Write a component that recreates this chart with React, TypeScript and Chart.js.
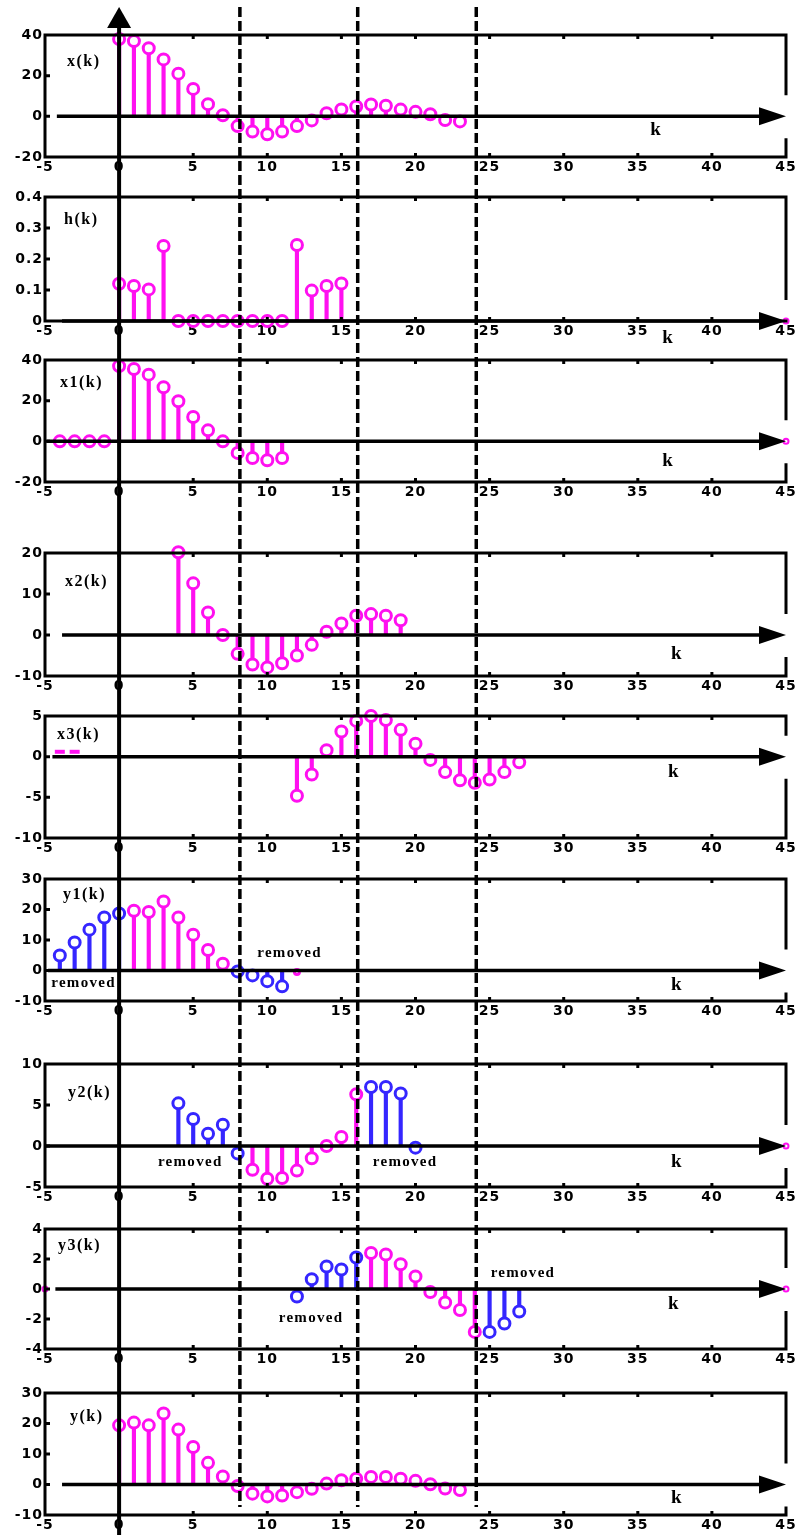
import React, { useEffect, useRef } from 'react';
import { Chart, registerables } from 'chart.js';
Chart.register(...registerables);

const MAG = '#ff10f0';
const BLUE = '#3526ff';
const W = 798;
const PAGE_H = 1535;
const K_MIN = -5;
const K_MAX = 45;
const K_STEP = 5;
const DIVIDERS = [8.15, 16.1, 24.1];
const DASH_TOP = 7;
const DASH_BOTTOM = 1507;

// ---- data ----
const X_K0 = 0;
const X_VALUES = [38, 37, 33.5, 28, 21, 13.5, 6, 0.5, -4.8, -7.5, -8.8, -7.5, -4.8, -2, 1.5, 3.4, 4.8, 5.8, 5.2, 3.3, 2.2, 1, -1.8, -2.5];

const H_K0 = 0;
const H_VALUES = [0.12, 0.113, 0.102, 0.242, 0, 0, 0, 0, 0, 0, 0, 0, 0.245, 0.098, 0.113, 0.121];

const X1_K0 = -4;
const X1_VALUES = [0, 0, 0, 0, 37, 35.6, 32.8, 26.6, 19.7, 12, 5.4, 0, -5.7, -8.2, -9.3, -8.2];

const X2_K0 = 4;
const X2_VALUES = [20.2, 12.6, 5.5, 0, -4.6, -7.2, -7.9, -6.9, -5, -2.4, 0.8, 2.8, 4.7, 5.1, 4.7, 3.6];

const X3_K0 = 12;
const X3_VALUES = [-4.8, -2.2, 0.8, 3.1, 4.4, 5.0, 4.5, 3.3, 1.6, -0.4, -1.9, -2.9, -3.2, -2.8, -1.9, -0.7];
const X3_STRAY_K0 = -4;
const X3_STRAY = [0.6, 0.6];

const Y1_HEAD_K0 = -4;
const Y1_HEAD = [4.9, 9.2, 13.4, 17.4, 18.7];
const Y1_KEPT_K0 = 1;
const Y1_KEPT = [19.6, 19.2, 22.6, 17.4, 11.7, 6.7, 2.2];
const Y1_TAIL_K0 = 8;
const Y1_TAIL = [-0.3, -1.6, -3.5, -5.2];
const Y1_END_K0 = 12;
const Y1_END = [-0.5];

const Y2_HEAD_K0 = 4;
const Y2_HEAD = [5.2, 3.3, 1.5, 2.6, -0.9];
const Y2_KEPT_K0 = 9;
const Y2_KEPT = [-2.9, -4.0, -3.9, -3.0, -1.5, 0, 1.1, 6.3];
const Y2_TAIL_K0 = 17;
const Y2_TAIL = [7.2, 7.2, 6.4, -0.2];

const Y3_HEAD_K0 = 12;
const Y3_HEAD = [-0.5, 0.65, 1.5, 1.3, 2.1];
const Y3_KEPT_K0 = 17;
const Y3_KEPT = [2.4, 2.3, 1.65, 0.84, -0.2, -0.9, -1.4, -2.86];
const Y3_TAIL_K0 = 25;
const Y3_TAIL = [-2.86, -2.3, -1.5];

const Y_K0 = 0;
const Y_VALUES = [19.4, 20.3, 19.4, 23.3, 18, 12.3, 7.1, 2.6, -0.5, -3, -3.9, -3.6, -2.5, -1.4, 0.3, 1.4, 1.9, 2.5, 2.5, 1.9, 1.2, 0.1, -1.3, -1.8];

const EDGE_LEFT_K0 = -5;
const EDGE_RIGHT_K0 = 45;
const EDGE_VALUES = [0];

const REMOVED = 'removed';

// ---- types ----
type Seg = { k0: number; values: number[]; color: string; stem?: boolean; r?: number; style?: string; bw?: number };
type Note = { k: number; v: number; text: string };
type PanelCfg = {
  title: string;
  top: number;
  h: number;
  padTop: number;
  padBottom: number;
  yMin: number;
  yMax: number;
  yStep: number;
  axisFrom: number;
  kAt: number;
  kDy: number;
  tdx: number;
  tdy: number;
  first?: boolean;
  segs: Seg[];
  notes: Note[];
};

const edgeR: Seg = { k0: EDGE_RIGHT_K0, values: EDGE_VALUES, color: MAG, stem: false, r: 2.5, bw: 2 };
const edgeL: Seg = { k0: EDGE_LEFT_K0, values: EDGE_VALUES, color: MAG, stem: false, r: 2.5, bw: 2 };

const PANELS: PanelCfg[] = [
  {
    title: 'x(k)', top: 0, h: 185, padTop: 35, padBottom: 8, yMin: -20, yMax: 40, yStep: 20,
    axisFrom: -4.2, kAt: 36.2, kDy: 14, tdx: 22, tdy: 27, first: true,
    segs: [{ k0: X_K0, values: X_VALUES, color: MAG }], notes: [],
  },
  {
    title: 'h(k)', top: 185, h: 160, padTop: 12, padBottom: 4, yMin: 0, yMax: 0.4, yStep: 0.1,
    axisFrom: -3.85, kAt: 37, kDy: 17, tdx: 19, tdy: 23,
    segs: [{ k0: H_K0, values: H_VALUES, color: MAG }, edgeR], notes: [],
  },
  {
    title: 'x1(k)', top: 345, h: 160, padTop: 15, padBottom: 3, yMin: -20, yMax: 40, yStep: 20,
    axisFrom: -4.9, kAt: 37, kDy: 20, tdx: 15, tdy: 23,
    segs: [{ k0: X1_K0, values: X1_VALUES, color: MAG }, edgeR], notes: [],
  },
  {
    title: 'x2(k)', top: 505, h: 195, padTop: 48, padBottom: 4, yMin: -10, yMax: 20, yStep: 10,
    axisFrom: -3.85, kAt: 37.6, kDy: 19, tdx: 20, tdy: 29,
    segs: [{ k0: X2_K0, values: X2_VALUES, color: MAG }], notes: [],
  },
  {
    title: 'x3(k)', top: 700, h: 162, padTop: 16, padBottom: 4, yMin: -10, yMax: 5, yStep: 5,
    axisFrom: -4.5, kAt: 37.4, kDy: 15, tdx: 12, tdy: 19,
    segs: [
      { k0: X3_K0, values: X3_VALUES, color: MAG },
      { k0: X3_STRAY_K0, values: X3_STRAY, color: MAG, stem: false, style: 'line', r: 5, bw: 4 },
    ],
    notes: [],
  },
  {
    title: 'y1(k)', top: 862, h: 168, padTop: 17, padBottom: 9, yMin: -10, yMax: 30, yStep: 10,
    axisFrom: -4.8, kAt: 37.6, kDy: 15, tdx: 18, tdy: 16,
    segs: [
      { k0: Y1_HEAD_K0, values: Y1_HEAD, color: BLUE },
      { k0: Y1_KEPT_K0, values: Y1_KEPT, color: MAG },
      { k0: Y1_TAIL_K0, values: Y1_TAIL, color: BLUE },
      { k0: Y1_END_K0, values: Y1_END, color: MAG, r: 2.5 },
    ],
    notes: [
      { k: -2.4, v: -4.1, text: REMOVED },
      { k: 11.5, v: 5.7, text: REMOVED },
    ],
  },
  {
    title: 'y2(k)', top: 1030, h: 180, padTop: 34, padBottom: 3, yMin: -5, yMax: 10, yStep: 5,
    axisFrom: -5, kAt: 37.6, kDy: 16, tdx: 23, tdy: 29,
    segs: [
      { k0: Y2_HEAD_K0, values: Y2_HEAD, color: BLUE },
      { k0: Y2_KEPT_K0, values: Y2_KEPT, color: MAG },
      { k0: Y2_TAIL_K0, values: Y2_TAIL, color: BLUE },
      edgeR,
    ],
    notes: [
      { k: 4.8, v: -1.95, text: REMOVED },
      { k: 19.3, v: -1.95, text: REMOVED },
    ],
  },
  {
    title: 'y3(k)', top: 1210, h: 160, padTop: 19, padBottom: 1, yMin: -4, yMax: 4, yStep: 2,
    axisFrom: -4.3, kAt: 37.4, kDy: 15, tdx: 13, tdy: 17,
    segs: [
      { k0: Y3_HEAD_K0, values: Y3_HEAD, color: BLUE },
      { k0: Y3_KEPT_K0, values: Y3_KEPT, color: MAG },
      { k0: Y3_TAIL_K0, values: Y3_TAIL, color: BLUE },
      edgeL,
      edgeR,
    ],
    notes: [
      { k: 12.95, v: -1.93, text: REMOVED },
      { k: 27.25, v: 1.07, text: REMOVED },
    ],
  },
  {
    title: 'y(k)', top: 1370, h: 165, padTop: 23, padBottom: 0, yMin: -10, yMax: 30, yStep: 10,
    axisFrom: -3.85, kAt: 37.6, kDy: 14, tdx: 25, tdy: 24,
    segs: [{ k0: Y_K0, values: Y_VALUES, color: MAG }], notes: [],
  },
];

const TICK_FONT = { family: "'DejaVu Sans', sans-serif", weight: 'bold' as const, size: 14 };

function decoPlugin(p: PanelCfg) {
  return {
    id: 'deco',
    beforeDraw(chart: any) {
      chart.ctx.letterSpacing = '1px';
    },
    afterDatasetsDraw(chart: any) {
      const { ctx, chartArea: a } = chart;
      const x = chart.scales.x;
      const y = chart.scales.y;
      const H = chart.height;
      const y0 = y.getPixelForValue(0);
      ctx.save();
      ctx.strokeStyle = '#000';
      ctx.fillStyle = '#000';
      ctx.lineCap = 'butt';
      ctx.setLineDash([]);

      // frame
      ctx.lineWidth = 3;
      ctx.beginPath();
      ctx.moveTo(a.left - 1.5, a.top);
      ctx.lineTo(a.right + 1.5, a.top);
      ctx.moveTo(a.left, a.top);
      ctx.lineTo(a.left, a.bottom);
      ctx.moveTo(a.left - 1.5, a.bottom);
      ctx.lineTo(a.right + 1.5, a.bottom);
      ctx.moveTo(a.right, a.top);
      ctx.lineTo(a.right, Math.max(a.top, y0 - 21));
      if (y0 + 22 < a.bottom) {
        ctx.moveTo(a.right, y0 + 22);
        ctx.lineTo(a.right, a.bottom);
      }
      ctx.stroke();

      // small inward ticks
      ctx.beginPath();
      x.ticks.forEach((t: any) => {
        const px = x.getPixelForValue(t.value);
        if (px > a.left + 3 && px < a.right - 3) {
          ctx.moveTo(px, a.top);
          ctx.lineTo(px, a.top + 4);
          ctx.moveTo(px, a.bottom);
          ctx.lineTo(px, a.bottom - 4);
        }
      });
      y.ticks.forEach((t: any) => {
        const py = y.getPixelForValue(t.value);
        if (py > a.top + 3 && py < a.bottom - 3) {
          ctx.moveTo(a.left, py);
          ctx.lineTo(a.left + 5, py);
        }
      });
      ctx.stroke();

      // k axis with arrow
      ctx.lineWidth = 3.5;
      const xs = x.getPixelForValue(p.axisFrom);
      const xe = x.getPixelForValue(K_MAX);
      ctx.beginPath();
      ctx.moveTo(xs, y0);
      ctx.lineTo(xe - 20, y0);
      ctx.stroke();
      ctx.beginPath();
      ctx.moveTo(xe, y0);
      ctx.lineTo(xe - 27, y0 - 9);
      ctx.lineTo(xe - 27, y0 + 9);
      ctx.closePath();
      ctx.fill();

      // vertical axis at k = 0
      const x0 = x.getPixelForValue(0);
      ctx.lineWidth = 4;
      ctx.beginPath();
      ctx.moveTo(x0, p.first ? 22 : 0);
      ctx.lineTo(x0, H);
      ctx.stroke();
      if (p.first) {
        ctx.beginPath();
        ctx.moveTo(x0, 7);
        ctx.lineTo(x0 - 12, 28);
        ctx.lineTo(x0 + 12, 28);
        ctx.closePath();
        ctx.fill();
      }

      // dashed dividers
      ctx.lineWidth = 3.5;
      ctx.setLineDash([10, 4]);
      DIVIDERS.forEach((d) => {
        const px = x.getPixelForValue(d);
        const g0 = Math.max(DASH_TOP, p.top);
        const g1 = Math.min(DASH_BOTTOM, p.top + H);
        if (g1 <= g0) return;
        ctx.lineDashOffset = (g0 - DASH_TOP) % 14;
        ctx.beginPath();
        ctx.moveTo(px, g0 - p.top);
        ctx.lineTo(px, g1 - p.top);
        ctx.stroke();
      });
      ctx.restore();
    },
    afterDraw(chart: any) {
      const { ctx, chartArea: a } = chart;
      const x = chart.scales.x;
      const y = chart.scales.y;
      const y0 = y.getPixelForValue(0);
      ctx.save();
      ctx.fillStyle = '#000';
      ctx.textBaseline = 'middle';

      ctx.letterSpacing = '1.5px';
      ctx.textAlign = 'left';
      ctx.font = "bold 16px 'Liberation Serif', serif";
      ctx.fillText(p.title, a.left + p.tdx, a.top + p.tdy);

      ctx.letterSpacing = '0px';
      ctx.textAlign = 'center';
      ctx.font = "bold 19px 'Liberation Serif', serif";
      ctx.fillText('k', x.getPixelForValue(p.kAt), y0 + p.kDy);

      ctx.letterSpacing = '1.3px';
      ctx.font = "bold 15px 'Liberation Serif', serif";
      p.notes.forEach((n) => {
        ctx.fillText(n.text, x.getPixelForValue(n.k), y.getPixelForValue(n.v));
      });
      ctx.restore();
    },
  };
}

function buildConfig(p: PanelCfg) {
  const datasets: any[] = [];
  p.segs.forEach((s) => {
    const pts = s.values.map((v, i) => ({ x: s.k0 + i, y: v }));
    if (s.stem !== false) {
      datasets.push({
        type: 'bar',
        data: pts,
        backgroundColor: s.color,
        barThickness: 3.5,
        grouped: false,
        borderWidth: 0,
        clip: false,
        order: 2,
      });
    }
    datasets.push({
      type: 'scatter',
      data: pts,
      showLine: false,
      pointStyle: s.style || 'circle',
      pointRadius: s.r ?? 5.5,
      pointHoverRadius: s.r ?? 5.5,
      pointBorderWidth: s.bw ?? 3,
      pointBorderColor: s.color,
      pointBackgroundColor: '#ffffff',
      clip: false,
      order: 1,
    });
  });
  return {
    type: 'scatter',
    data: { datasets },
    options: {
      responsive: false,
      maintainAspectRatio: false,
      animation: false,
      events: [],
      layout: { padding: { top: p.padTop, bottom: p.padBottom, left: 8, right: 12 } },
      plugins: { legend: { display: false }, tooltip: { enabled: false }, title: { display: false } },
      scales: {
        x: {
          type: 'linear',
          min: K_MIN,
          max: K_MAX,
          offset: false,
          grid: { display: false, drawTicks: false, offset: false },
          border: { display: false },
          ticks: { stepSize: K_STEP, padding: 2, color: '#000', font: TICK_FONT, maxRotation: 0, autoSkip: false },
          afterFit: (s: any) => {
            s.height = 20;
          },
        },
        y: {
          type: 'linear',
          min: p.yMin,
          max: p.yMax,
          grid: { display: false, drawTicks: false },
          border: { display: false },
          ticks: { stepSize: p.yStep, padding: 2, color: '#000', font: TICK_FONT },
          afterFit: (s: any) => {
            s.width = 37;
          },
        },
      },
    },
    plugins: [decoPlugin(p)],
  };
}

function PanelChart({ p }: { p: PanelCfg }) {
  const ref = useRef<HTMLCanvasElement>(null);
  useEffect(() => {
    if (!ref.current) return;
    const chart = new Chart(ref.current, buildConfig(p) as any);
    return () => chart.destroy();
  }, [p]);
  return (
    <canvas
      ref={ref}
      width={W}
      height={p.h}
      style={{ position: 'absolute', left: 0, top: p.top, width: W, height: p.h, display: 'block' }}
    />
  );
}

export default function App() {
  return (
    <div style={{ position: 'absolute', left: 0, top: 0, width: W, height: PAGE_H, background: '#fff', overflow: 'hidden' }}>
      {PANELS.map((p, i) => (
        <PanelChart key={i} p={p} />
      ))}
    </div>
  );
}
